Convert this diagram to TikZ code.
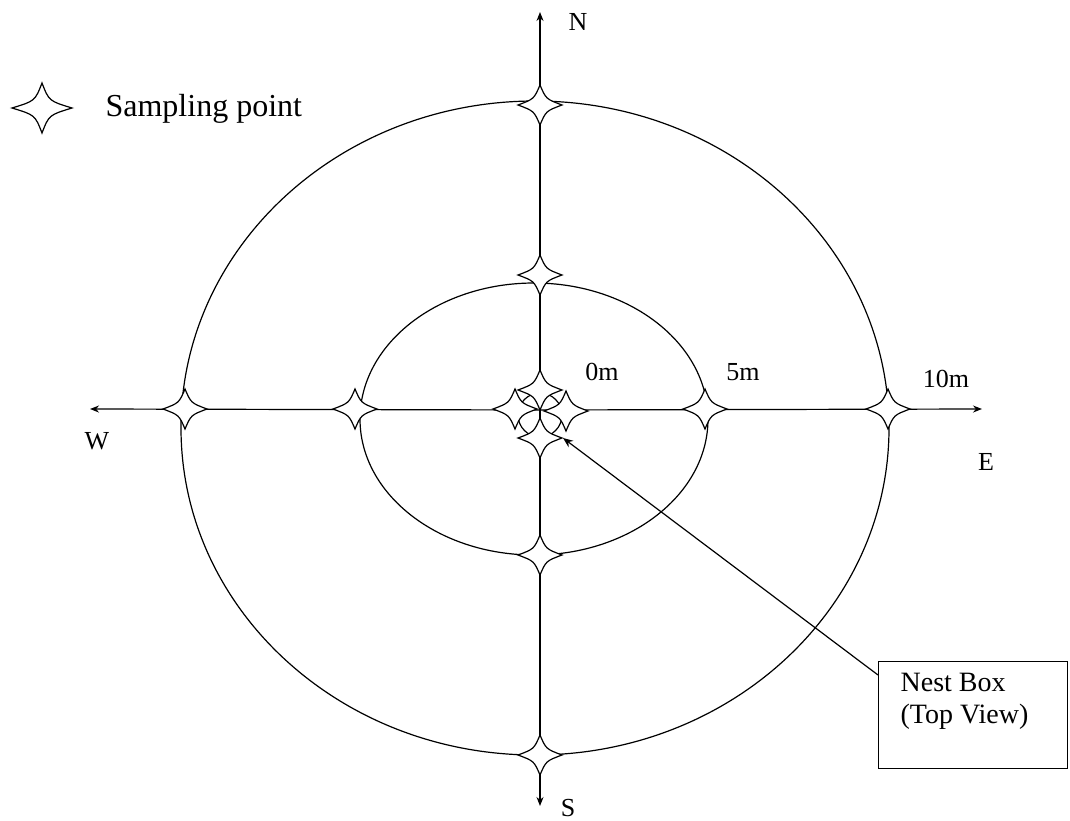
\documentclass[tikz,border=0pt]{standalone}
\usepackage{fontspec}
\setmainfont{Liberation Serif}
\usetikzlibrary{arrows.meta}
\begin{document}
\begin{tikzpicture}[x=1pt,y=-1pt,
  line width=1.2pt,
  lbl/.style={font=\fontsize{26}{30}\selectfont, inner sep=0pt},
  ax/.style={-{Stealth[length=9pt,width=7pt]}},
  samp/.pic={\draw[fill=white,line width=1.2pt]
     (-22,0) .. controls (-6,-6) .. (0,-20) .. controls (6,-6) .. (22,0)
     .. controls (6,6) .. (0,20) .. controls (-6,6) .. cycle;},
  bigsamp/.pic={\draw[fill=white,line width=1.2pt]
     (-30,0) .. controls (-7,-7) .. (0,-25) .. controls (7,-7) .. (30,0)
     .. controls (7,7) .. (0,25) .. controls (-7,7) .. cycle;}
]
\useasboundingbox (0,0) rectangle (1070,821);
% rings
\draw (535,428) ellipse [x radius=354, y radius=327];
\draw (534,419) ellipse [x radius=174, y radius=136];
\draw (540,415) circle [radius=22];
% axes
\coordinate (c) at (540,410);
\coordinate (n) at (540,12);
\coordinate (s) at (540,806);
\coordinate (w) at (90,409);
\coordinate (e) at (982,409);
\draw[ax] (c) -- (n);
\draw[ax] (c) -- (s);
\draw[ax] (c) -- (w);
\draw[ax] (c) -- (e);
% sampling points
\foreach \px/\py in {540/105, 540/275, 540/555, 540/755,
                     185/409, 355/409, 705/409, 888/409,
                     540/390, 515/409, 566/411, 540/438}
  \pic at (\px,\py) {samp};
% legend
\pic at (42,108) {bigsamp};
\node[font=\fontsize{32}{36}\selectfont, inner sep=0pt, anchor=west] (leg) at (105,109) {Sampling point};
% labels
\node[lbl] (ln) at (578,22) {N};
\node[lbl] (ls) at (568,808) {S};
\node[lbl] (lw) at (97,441) {W};
\node[lbl] (le) at (986,462) {E};
\node[lbl] (l0) at (602,372) {0m};
\node[lbl] (l5) at (743,372) {5m};
\node[lbl] (l10) at (946,379) {10m};
% nest box
\node[draw, line width=1.2pt, minimum width=189pt, minimum height=107pt,
      anchor=north west, inner sep=0pt] (box) at (878,661) {};
\node[font=\fontsize{28}{32}\selectfont, inner sep=0pt, align=left, anchor=north west] (boxt) at (900,673) {Nest Box\\(Top View)};
\coordinate (tip) at (563,438);
\draw[-{Stealth[length=10pt,width=8pt]}] (box.north west) ++(0,14) -- (tip);
\end{tikzpicture}
\end{document}
